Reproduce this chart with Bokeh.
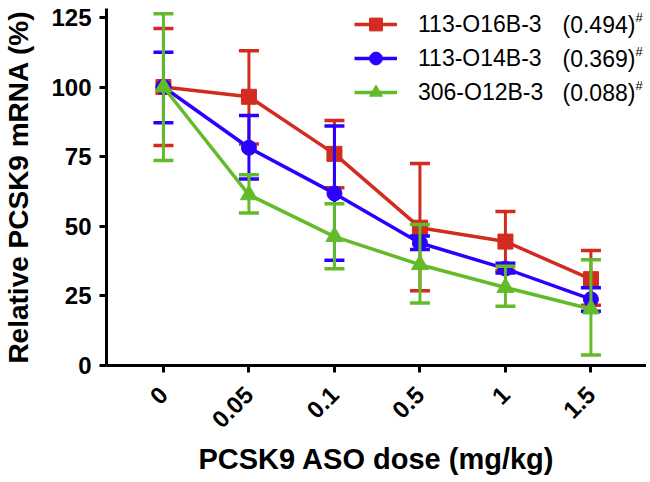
import math
from bokeh.plotting import figure
from bokeh.models import (Range1d, FixedTicker, Legend, LegendItem, Label)
from bokeh.embed import file_html
from bokeh.resources import INLINE

# ---- data ----
doses = ["0", "0.05", "0.1", "0.5", "1", "1.5"]
series_names = ["113-O16B-3", "113-O14B-3", "306-O12B-3"]
series_notes = ["(0.494)", "(0.369)", "(0.088)"]

red_mean = [100, 96.5, 76, 49.5, 44.5, 31]
red_upper = [121, 113, 88, 72.5, 55.3, 41.3]
red_lower = [79, 79.5, 63.8, 26.8, 34.1, 21.6]

blue_mean = [100, 78.2, 61.8, 44, 34.8, 23.8]
blue_upper = [112.5, 89.8, 86, 46.5, 36.7, 27.9]
blue_lower = [87.2, 67, 37.8, 41.7, 33.2, 19.5]

green_mean = [100, 61.3, 46.3, 36.2, 28, 20.3]
green_upper = [126.3, 68.5, 58.1, 50.6, 35.6, 38]
green_lower = [73.6, 54.8, 34.7, 22.4, 21.3, 3.8]

y_ticks = [0, 25, 50, 75, 100, 125]

RED = "#D22B1F"
BLUE = "#2A00FF"
GREEN = "#63BB2A"
FONT = "Liberation Sans"

xs = list(range(len(doses)))

p = figure(width=646, height=480, output_backend="svg", toolbar_location=None,
           x_range=Range1d(-0.666, 5.65), y_range=Range1d(0, 128.2),
           min_border_left=105, min_border_right=0, min_border_top=8,
           min_border_bottom=115)
p.outline_line_color = None
p.xgrid.visible = False
p.ygrid.visible = False

series = [
    (red_mean, red_upper, red_lower, RED, "square"),
    (blue_mean, blue_upper, blue_lower, BLUE, "circle"),
    (green_mean, green_upper, green_lower, GREEN, "triangle"),
]

items = []
for (mean, up, lo, col, mk), name in zip(series, series_names):
    p.segment(x0=xs, y0=lo, x1=xs, y1=up, line_color=col, line_width=3)
    p.scatter(x=xs, y=up, marker="dash", size=20, line_color=col, line_width=3.5)
    p.scatter(x=xs, y=lo, marker="dash", size=20, line_color=col, line_width=3.5)
    ln = p.line(x=xs, y=mean, line_color=col, line_width=3.5)
    sc = p.scatter(x=xs, y=mean, marker=mk, size=15 if mk != "triangle" else 17,
                   fill_color=col, line_color=col)
    items.append(LegendItem(label=name, renderers=[ln, sc]))

legend = Legend(items=items, location=(248, 257), padding=0, margin=0,
                border_line_color=None, background_fill_alpha=0,
                glyph_width=43, glyph_height=32, label_height=32, spacing=2,
                label_standoff=21, label_text_font=FONT,
                label_text_font_size="23px", label_text_color="black")
p.add_layout(legend)

row_y = [341, 307, 273]
for note, yy in zip(series_notes, row_y):
    p.add_layout(Label(x=456, y=yy, x_units="screen", y_units="screen", text=note,
                       text_font=FONT, text_font_size="23px", text_baseline="middle",
                       text_color="black"))
    p.add_layout(Label(x=529, y=yy + 7, x_units="screen", y_units="screen", text="#",
                       text_font=FONT, text_font_size="13px", text_baseline="middle",
                       text_color="black"))

# axes
for ax in (p.xaxis[0], p.yaxis[0]):
    ax.axis_line_width = 3
    ax.axis_line_color = "black"
    ax.major_tick_line_width = 3
    ax.major_tick_line_color = "black"
    ax.major_tick_out = 7
    ax.major_tick_in = 0
    ax.minor_tick_line_color = None
    ax.major_label_text_font = FONT
    ax.major_label_text_font_style = "bold"
    ax.major_label_text_color = "black"
    ax.axis_label_text_font = FONT
    ax.axis_label_text_font_style = "bold"
    ax.axis_label_text_color = "black"

p.yaxis.ticker = FixedTicker(ticks=y_ticks)
p.yaxis.major_label_text_font_size = "24px"
p.yaxis.major_label_standoff = 8
p.yaxis.axis_label = "Relative PCSK9 mRNA (%)"
p.yaxis.axis_label_text_font_size = "28px"
p.yaxis.axis_label_standoff = 14

p.xaxis.ticker = FixedTicker(ticks=xs)
p.xaxis.major_label_overrides = {i: d for i, d in zip(xs, doses)}
p.xaxis.major_label_orientation = math.pi / 4
p.xaxis.major_label_text_font_size = "24px"
p.xaxis.major_label_standoff = 18
p.xaxis.axis_label = "PCSK9 ASO dose (mg/kg)"
p.xaxis.axis_label_text_font_size = "29px"
p.xaxis.axis_label_standoff = 4

open("out.html", "w").write(file_html(p, INLINE))
